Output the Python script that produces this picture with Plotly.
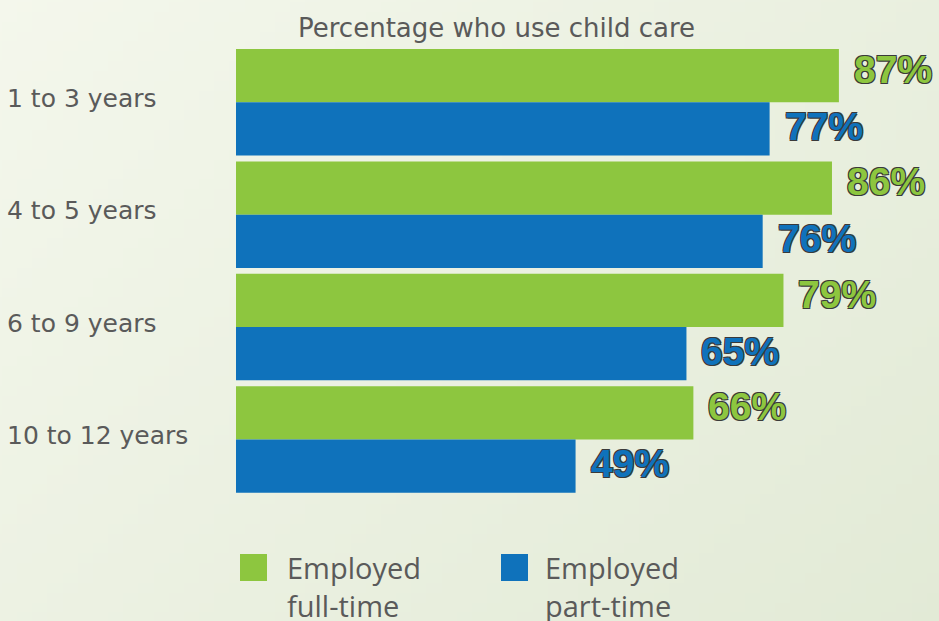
import base64
import struct
import zlib

import plotly.graph_objects as go

# ---------------- data ----------------
age_groups = ["1 to 3 years", "4 to 5 years", "6 to 9 years", "10 to 12 years"]
full_time = [87, 86, 79, 66]
part_time = [77, 76, 65, 49]
series_names = ["Employed<br>full-time", "Employed<br>part-time"]
series_colors = ["#8dc63f", "#0f72bb"]
title_text = "Percentage who use child care"


# ---------------- background gradient (generated PNG) ----------------
def gradient_png(w, h, c0, c1):
    rows = b""
    for j in range(h):
        row = b"\x00"
        for i in range(w):
            t = (i / (w - 1)) * 0.6 + (j / (h - 1)) * 0.4
            px = bytes(int(round(c0[k] + (c1[k] - c0[k]) * t)) for k in range(3))
            row += px
        rows += row

    def chunk(tag, data):
        c = struct.pack(">I", len(data)) + tag + data
        return c + struct.pack(">I", zlib.crc32(tag + data) & 0xFFFFFFFF)

    png = b"\x89PNG\r\n\x1a\n"
    png += chunk(b"IHDR", struct.pack(">IIBBBBB", w, h, 8, 2, 0, 0, 0))
    png += chunk(b"IDAT", zlib.compress(rows, 9))
    png += chunk(b"IEND", b"")
    return "data:image/png;base64," + base64.b64encode(png).decode()


bg_src = gradient_png(64, 64, (244, 247, 236), (226, 234, 214))

fig = go.Figure()
for name, vals, col in zip(series_names, [full_time, part_time], series_colors):
    fig.add_trace(
        go.Bar(
            y=age_groups,
            x=vals,
            orientation="h",
            name=name,
            marker=dict(color=col, line=dict(width=0)),
            hoverinfo="skip",
            showlegend=False,
        )
    )

annotations = []
outline = "-1px -1px 0 #3a3a3a, 1px -1px 0 #3a3a3a, -1px 1px 0 #3a3a3a, 1px 1px 0 #3a3a3a"
for idx, (f, p) in enumerate(zip(full_time, part_time)):
    for val, col, ys in [(f, series_colors[0], 33), (p, series_colors[1], -24)]:
        annotations.append(
            dict(
                x=val, y=idx, xref="x", yref="y", text=f"{val}%",
                showarrow=False, xanchor="left", yanchor="middle",
                xshift=13, yshift=ys,
                font=dict(family="Liberation Sans", size=39, color=col,
                          weight="bold", shadow=outline),
            )
        )

# category labels, left aligned
for idx, lab in enumerate(age_groups):
    annotations.append(
        dict(
            x=-0.333, y=idx, xref="paper", yref="y", text=lab,
            showarrow=False, xanchor="left", yanchor="middle", yshift=4,
            font=dict(family="DejaVu Sans", size=25, color="#5a5a5a"),
        )
    )

# title
annotations.append(
    dict(
        x=0.3766, y=1.04, xref="paper", yref="paper", text=title_text,
        showarrow=False, xanchor="center", yanchor="middle",
        font=dict(family="DejaVu Sans", size=26, color="#5a5a5a"),
    )
)

# custom legend
shapes = []
legend_pos = [(0.00577, 0.0447, 0.0707), (0.3824, 0.4214, 0.443)]
for (x0, x1, xt), name, col in zip(legend_pos, series_names, series_colors):
    shapes.append(
        dict(type="rect", xref="paper", yref="paper", x0=x0, x1=x1,
             y0=-0.1889, y1=-0.1289, fillcolor=col, line=dict(width=0))
    )
    annotations.append(
        dict(
            x=xt, y=-0.112, xref="paper", yref="paper", text=name,
            showarrow=False, xanchor="left", yanchor="top", align="left",
            font=dict(family="Open Sans", size=29, color="#5a5a5a"),
        )
    )

fig.update_layout(
    width=939,
    height=621,
    margin=dict(l=236, r=10, t=46, b=125),
    paper_bgcolor="#eaf0df",
    plot_bgcolor="rgba(0,0,0,0)",
    barmode="group",
    bargap=0.053,
    bargroupgap=0,
    xaxis=dict(range=[0, 100], visible=False, fixedrange=True),
    yaxis=dict(autorange="reversed", showticklabels=False, showgrid=False,
               zeroline=False, showline=False, ticks="", fixedrange=True),
    annotations=annotations,
    shapes=shapes,
    images=[dict(source=bg_src, xref="paper", yref="paper", x=-0.35, y=1.11,
                 sizex=1.4, sizey=1.4, sizing="stretch", layer="below",
                 xanchor="left", yanchor="top")],
    showlegend=False,
)

fig.write_html(
    "out.html",
    config={"displayModeBar": False},
    post_script="document.body.style.margin='0';document.body.style.overflow='hidden';",
)
